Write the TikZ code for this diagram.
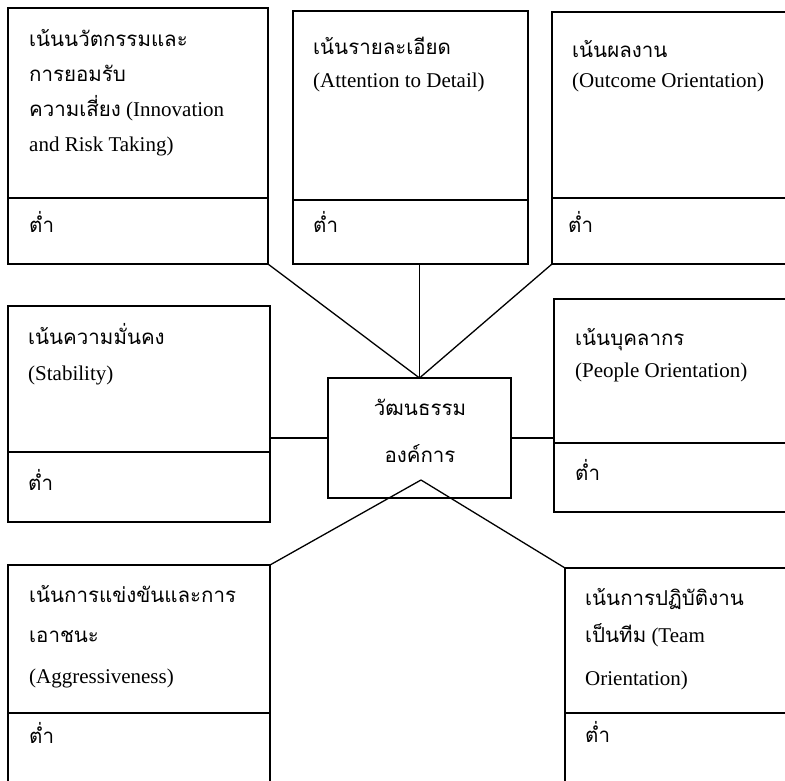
\documentclass[tikz,border=0pt]{standalone}
\usepackage{fontspec}
\setmainfont{Liberation Serif}
\newfontfamily\thfont[Script=Thai,Scale=0.976]{Loma}
\begin{document}
\begin{tikzpicture}[x=1pt,y=-1pt,
  box/.style={draw, line width=1.5pt, anchor=north west, inner sep=0pt, outer sep=0pt},
  txt/.style={anchor=base west, inner sep=0pt, font=\fontsize{21}{25}\selectfont},
  ctxt/.style={anchor=base, inner sep=0pt, font=\fontsize{21}{25}\selectfont},
  link/.style={draw, line width=1.3pt}]
\clip (0,0) rectangle (785,781);
\fill[white] (0,0) rectangle (785,781);
% top row
\node[box, minimum width=260pt, minimum height=190pt] (b1u) at (8,8) {};
\node[box, minimum width=260pt, minimum height=66pt] (b1l) at (8,198) {};
\node[box, minimum width=235pt, minimum height=189pt] (b2u) at (293,11) {};
\node[box, minimum width=235pt, minimum height=64pt] (b2l) at (293,200) {};
\node[box, minimum width=240pt, minimum height=186pt] (b3u) at (552,12) {};
\node[box, minimum width=240pt, minimum height=66pt] (b3l) at (552,198) {};
% middle row
\node[box, minimum width=262pt, minimum height=146pt] (b4u) at (8,306) {};
\node[box, minimum width=262pt, minimum height=70pt] (b4l) at (8,452) {};
\node[box, minimum width=183pt, minimum height=120pt] (c) at (328,378) {};
\node[box, minimum width=240pt, minimum height=144pt] (b5u) at (554,299) {};
\node[box, minimum width=240pt, minimum height=69pt] (b5l) at (554,443) {};
% bottom row
\node[box, minimum width=262pt, minimum height=148pt] (b6u) at (8,565) {};
\node[box, minimum width=262pt, minimum height=90pt] (b6l) at (8,713) {};
\node[box, minimum width=230pt, minimum height=145pt] (b7u) at (565,568) {};
\node[box, minimum width=230pt, minimum height=90pt] (b7l) at (565,713) {};
% texts
\node[txt] (t1a) at (29,47) {\thfont เน้นนวัตกรรมและ};
\node[txt] (t1b) at (29,82) {\thfont การยอมรับ};
\node[txt] (t1c) at (29,117) {{\thfont ความเสี่ยง} (Innovation};
\node[txt] (t1d) at (29,152) {and Risk Taking)};
\node[txt] (t1e) at (29,233) {\thfont ต่ำ};
\node[txt] (t2a) at (313,55) {\thfont เน้นรายละเอียด};
\node[txt] (t2b) at (313,88) {(Attention to Detail)};
\node[txt] (t2e) at (313,233) {\thfont ต่ำ};
\node[txt] (t3a) at (572,58) {\thfont เน้นผลงาน};
\node[txt] (t3b) at (572,88) {(Outcome Orientation)};
\node[txt] (t3e) at (568,233) {\thfont ต่ำ};
\node[txt] (t4a) at (28,344) {\thfont เน้นความมั่นคง};
\node[txt] (t4b) at (28,380) {(Stability)};
\node[txt] (t4e) at (28,490) {\thfont ต่ำ};
\node[ctxt] (tca) at (420,415) {\thfont วัฒนธรรม};
\node[ctxt] (tcb) at (420,462) {\thfont องค์การ};
\node[txt] (t5a) at (575,345) {\thfont เน้นบุคลากร};
\node[txt] (t5b) at (575,377) {(People Orientation)};
\node[txt] (t5e) at (575,480) {\thfont ต่ำ};
\node[txt] (t6a) at (29,602) {\thfont เน้นการแข่งขันและการ};
\node[txt] (t6b) at (29,642) {\thfont เอาชนะ};
\node[txt] (t6c) at (29,683) {(Aggressiveness)};
\node[txt] (t6e) at (29,743) {\thfont ต่ำ};
\node[txt] (t7a) at (585,605) {\thfont เน้นการปฏิบัติงาน};
\node[txt] (t7b) at (585,642) {{\thfont เป็นทีม} (Team};
\node[txt] (t7c) at (585,685) {Orientation)};
\node[txt] (t7e) at (585,742) {\thfont ต่ำ};
% connectors
\coordinate (apex) at (421,480);
\draw[link] (b1l.south east) -- (c.north);
\draw[link] (c.north |- b2l.south) -- (c.north);
\draw[link] (b3l.south west) -- (c.north);
\draw[link] (c.west) -- (c.west -| b4u.east);
\draw[link] (c.east) -- (c.east -| b5u.west);
\draw[link] (apex) -- (b6u.north east);
\draw[link] (apex) -- (b7u.north west);
\end{tikzpicture}
\end{document}
